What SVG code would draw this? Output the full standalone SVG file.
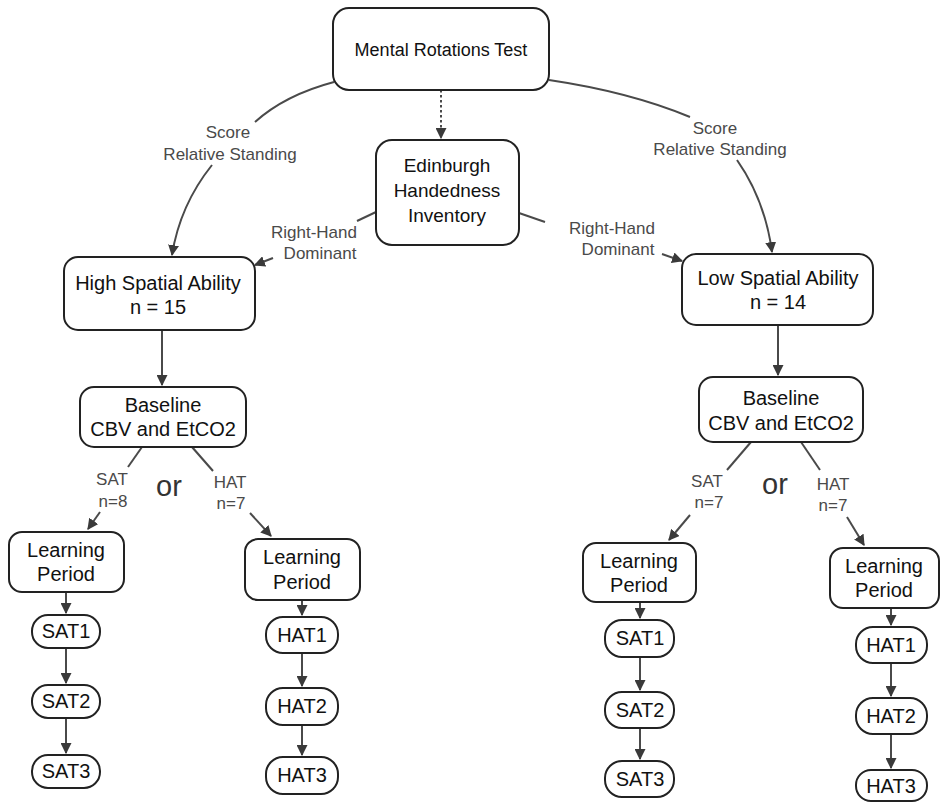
<svg xmlns="http://www.w3.org/2000/svg" width="941" height="802" viewBox="0 0 941 802">
<style>
.box{fill:#fff;stroke:#222;stroke-width:2}
.t{font-family:"Liberation Sans",Arial,sans-serif;font-size:20px;fill:#111;text-anchor:middle}
.t2{font-family:"Liberation Sans",Arial,sans-serif;font-size:19px;fill:#111;text-anchor:middle}
.t3{font-family:"Liberation Sans",Arial,sans-serif;font-size:18px;fill:#111;text-anchor:middle}
.lb{font-family:"Liberation Sans",Arial,sans-serif;font-size:17px;fill:#4a4a4a;text-anchor:middle}
.or{font-family:"Liberation Sans",Arial,sans-serif;font-size:29px;fill:#333;text-anchor:middle}
.c{fill:none;stroke:#4a4a4a;stroke-width:2}
</style>
<defs>
<marker id="ah" viewBox="0 0 10 10" refX="9" refY="5" markerWidth="5.5" markerHeight="5.5" orient="auto">
<path d="M0,0 L10,5 L0,10 z" fill="#3a3a3a"/>
</marker>
</defs>
<rect width="941" height="802" fill="#fff"/>
<g id="connectors">
<path class="c" d="M441,90 L441,138" stroke-dasharray="2.5,2.5" stroke-width="2.5" marker-end="url(#ah)"/>
<path class="c" d="M334,82 Q285,95 255,122"/>
<path class="c" d="M212,165 Q180,205 172,255" marker-end="url(#ah)"/>
<path class="c" d="M549,80 Q630,92 690,117"/>
<path class="c" d="M737,160 Q765,200 772,252" marker-end="url(#ah)"/>
<path class="c" d="M376,212 L357,221"/>
<path class="c" d="M273,258 L255,265" marker-end="url(#ah)"/>
<path class="c" d="M519,213 L545,222"/>
<path class="c" d="M662,254 L682,261" marker-end="url(#ah)"/>
<path class="c" d="M162,330 L162,385" marker-end="url(#ah)"/>
<path class="c" d="M778,325 L778,375" marker-end="url(#ah)"/>
<path class="c" d="M142,447 L128,467"/>
<path class="c" d="M100,512 L88,529" marker-end="url(#ah)"/>
<path class="c" d="M192,447 L213,471"/>
<path class="c" d="M250,513 L271,536" marker-end="url(#ah)"/>
<path class="c" d="M751,442 L727,470"/>
<path class="c" d="M690,515 L669,540" marker-end="url(#ah)"/>
<path class="c" d="M801,442 L820,470"/>
<path class="c" d="M847,517 L864,545" marker-end="url(#ah)"/>
<path class="c" d="M66,592 L66,613" marker-end="url(#ah)"/>
<path class="c" d="M66,648 L66,683" marker-end="url(#ah)"/>
<path class="c" d="M66,718 L66,753" marker-end="url(#ah)"/>
<path class="c" d="M302,600 L302,615" marker-end="url(#ah)"/>
<path class="c" d="M302,653 L302,686" marker-end="url(#ah)"/>
<path class="c" d="M302,725 L302,755" marker-end="url(#ah)"/>
<path class="c" d="M640,602 L640,618" marker-end="url(#ah)"/>
<path class="c" d="M640,657 L640,690" marker-end="url(#ah)"/>
<path class="c" d="M640,728 L640,759" marker-end="url(#ah)"/>
<path class="c" d="M891,608 L891,625" marker-end="url(#ah)"/>
<path class="c" d="M891,663 L891,696" marker-end="url(#ah)"/>
<path class="c" d="M891,734 L891,768" marker-end="url(#ah)"/>
<text class="lb" x="228" y="138">Score</text>
<text class="lb" x="230" y="160">Relative Standing</text>
<text class="lb" x="715" y="134">Score</text>
<text class="lb" x="720" y="155">Relative Standing</text>
<text class="lb" x="314" y="238">Right-Hand</text>
<text class="lb" x="320" y="259">Dominant</text>
<text class="lb" x="612" y="234">Right-Hand</text>
<text class="lb" x="618" y="255">Dominant</text>
<text class="lb" x="112" y="485">SAT</text>
<text class="lb" x="113" y="507">n=8</text>
<text class="lb" x="230" y="488">HAT</text>
<text class="lb" x="231" y="509">n=7</text>
<text class="lb" x="707" y="487">SAT</text>
<text class="lb" x="709" y="508">n=7</text>
<text class="lb" x="833" y="490">HAT</text>
<text class="lb" x="833" y="511">n=7</text>
<text class="or" x="169" y="496">or</text>
<text class="or" x="775" y="494">or</text>
</g>
<g id="mrt"><rect class="box" x="333" y="8" width="216" height="82" rx="16"/><text class="t3" x="441" y="56">Mental Rotations Test</text></g>
<g id="ehi"><rect class="box" x="376" y="140" width="143" height="105" rx="16"/><text class="t2" x="447" y="172">Edinburgh</text><text class="t2" x="447" y="197">Handedness</text><text class="t2" x="447" y="222">Inventory</text></g>
<g id="high"><rect class="box" x="64" y="257" width="191" height="73" rx="14"/><text class="t" x="158" y="290">High Spatial Ability</text><text class="t" x="158" y="314">n = 15</text></g>
<g id="low"><rect class="box" x="682" y="254" width="191" height="71" rx="14"/><text class="t" x="778" y="285">Low Spatial Ability</text><text class="t" x="778" y="309">n = 14</text></g>
<g id="baseL"><rect class="box" x="80" y="387" width="166" height="60" rx="14"/><text class="t" x="163" y="412">Baseline</text><text class="t" x="163" y="436">CBV and EtCO2</text></g>
<g id="baseR"><rect class="box" x="699" y="377" width="164" height="65" rx="14"/><text class="t" x="781" y="405">Baseline</text><text class="t" x="781" y="430">CBV and EtCO2</text></g>
<g id="lpSL"><rect class="box" x="9" y="532" width="115" height="60" rx="13"/><text class="t" x="66" y="557">Learning</text><text class="t" x="66" y="581">Period</text></g>
<g id="lpHL"><rect class="box" x="245" y="539" width="115" height="61" rx="13"/><text class="t" x="302" y="564">Learning</text><text class="t" x="302" y="589">Period</text></g>
<g id="lpSR"><rect class="box" x="583" y="543" width="113" height="59" rx="13"/><text class="t" x="639" y="568">Learning</text><text class="t" x="639" y="592">Period</text></g>
<g id="lpHR"><rect class="box" x="830" y="548" width="109" height="60" rx="13"/><text class="t" x="884" y="573">Learning</text><text class="t" x="884" y="597">Period</text></g>
<g id="sat1L"><rect class="box" x="32" y="615" width="68" height="33" rx="16"/><text class="t" x="66" y="638">SAT1</text></g>
<g id="sat2L"><rect class="box" x="32" y="685" width="68" height="33" rx="16"/><text class="t" x="66" y="708">SAT2</text></g>
<g id="sat3L"><rect class="box" x="32" y="755" width="68" height="33" rx="16"/><text class="t" x="66" y="778">SAT3</text></g>
<g id="hat1L"><rect class="box" x="266" y="617" width="72" height="36" rx="17"/><text class="t" x="302" y="642">HAT1</text></g>
<g id="hat2L"><rect class="box" x="266" y="688" width="72" height="37" rx="17"/><text class="t" x="302" y="713">HAT2</text></g>
<g id="hat3L"><rect class="box" x="266" y="757" width="72" height="37" rx="17"/><text class="t" x="302" y="782">HAT3</text></g>
<g id="sat1R"><rect class="box" x="605" y="620" width="69" height="37" rx="17"/><text class="t" x="640" y="645">SAT1</text></g>
<g id="sat2R"><rect class="box" x="605" y="692" width="69" height="36" rx="17"/><text class="t" x="640" y="717">SAT2</text></g>
<g id="sat3R"><rect class="box" x="605" y="761" width="69" height="36" rx="17"/><text class="t" x="640" y="786">SAT3</text></g>
<g id="hat1R"><rect class="box" x="856" y="627" width="71" height="36" rx="17"/><text class="t" x="891" y="652">HAT1</text></g>
<g id="hat2R"><rect class="box" x="856" y="698" width="71" height="36" rx="17"/><text class="t" x="891" y="723">HAT2</text></g>
<g id="hat3R"><rect class="box" x="856" y="770" width="71" height="31" rx="15"/><text class="t" x="891" y="793">HAT3</text></g>
</svg>
